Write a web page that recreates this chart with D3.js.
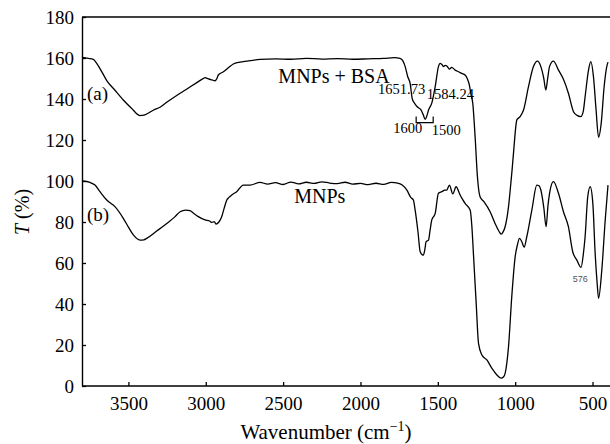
<!DOCTYPE html>
<html>
<head>
<meta charset="utf-8">
<script src="https://cdn.jsdelivr.net/npm/d3@7"></script>
<style>
  body { margin: 0; background: #fff; }
  #chart { width: 610px; height: 444px; }
  text { font-family: "Liberation Serif", "Times New Roman", serif; fill: #000; }
  .tick-lbl { font-size: 19px; }
  .ann { font-size: 14.5px; }
  .ann-small { font-family: "Liberation Sans", Arial, sans-serif; font-size: 9px; fill: #555; }
</style>
</head>
<body>
<div id="chart"></div>
<script>
///// DATA
// curve (a) MNPs + BSA
const waveA = [3800, 3760, 3727, 3705, 3670, 3640, 3590, 3533, 3480, 3425, 3400, 3382, 3340, 3296, 3250,
  3166, 3100, 3058, 3020, 3005, 2983, 2960, 2940, 2925, 2919, 2886, 2850, 2822, 2780, 2735, 2649,
  2550, 2450, 2350, 2250, 2150, 2050, 1950, 1850, 1780, 1745, 1725, 1711, 1695, 1679, 1665, 1650,
  1633, 1608, 1595, 1582, 1570, 1560, 1539, 1517, 1496, 1485, 1470, 1464, 1452, 1442, 1425, 1410,
  1388, 1367, 1345, 1324, 1310, 1296, 1285, 1274, 1259, 1244, 1227, 1202, 1162, 1130, 1105, 1091,
  1078, 1065, 1043, 1028, 1020, 1011, 989, 968, 946, 914, 882, 856, 834, 815, 802, 790, 778, 753,
  720, 688, 656, 623, 600, 576, 560, 548, 526, 511, 494, 477, 461, 444, 425, 408, 400];
const transA = [160.3, 159.8, 159.3, 157.4, 153, 149, 144.5, 139.5, 135.5, 131.9, 132.1, 132.7, 134.5, 136, 138.5,
  142.8, 146, 148, 149.8, 150.4, 149.8, 149.3, 148.9, 150.5, 151.7, 153.3, 155.5, 157.1, 158, 158.5, 159.3,
  159.6, 159.4, 159.8, 159.5, 159.7, 159.4, 159.6, 159.8, 160.2, 159.8, 158.5, 155.8, 151, 147.6, 140, 137.9,
  136.2, 134.6, 132.5, 130.1, 132, 134.6, 138, 146, 155.8, 157.4, 156.5, 155.8, 156.4, 156.1, 154.6, 155.4,
  154.1, 153.3, 152.5, 151.7, 150, 146.8, 142, 137.9, 121.6, 102.1, 92.3, 89.9, 85, 79.3, 75.5, 74.1,
  75.2, 77.7, 87.5, 98.9, 105.4, 113.5, 129.8, 131.4, 134.6, 146, 155.8, 158.5, 155.8, 150, 144.4, 150, 155.8, 158.5,
  154.1, 149.6, 142.8, 133.8, 132, 131.4, 134, 141.1, 154.1, 158.2, 150.9, 134.6, 121.3, 128.1, 146, 155.8, 158];

// curve (b) MNPs
const waveB = [3800, 3748, 3716, 3684, 3640, 3587, 3533, 3500, 3468, 3425, 3400, 3382, 3317, 3252, 3200,
  3166, 3130, 3102, 3075, 3048, 3005, 2975, 2961, 2945, 2934, 2915, 2897, 2880, 2864, 2850, 2832, 2800,
  2757, 2714, 2649, 2600, 2550, 2500, 2450, 2400, 2350, 2300, 2250, 2200, 2150, 2100, 2050, 2000, 1950,
  1900, 1850, 1800, 1760, 1730, 1700, 1675, 1658, 1647, 1628, 1614, 1600, 1593, 1583, 1576, 1560, 1550,
  1539, 1517, 1496, 1474, 1455, 1442, 1425, 1403, 1382, 1356, 1340, 1324, 1291, 1280, 1270, 1252, 1237,
  1215, 1183, 1150, 1118, 1091, 1075, 1065, 1043, 1022, 1000, 985, 972, 957, 942, 925, 892, 860, 848,
  834, 815, 800, 788, 774, 753, 720, 688, 656, 628, 602, 574, 560, 548, 531, 515, 498, 483, 470, 461,
  440, 418, 400];
const transB = [100, 99.3, 98, 94.8, 90.7, 87.5, 81.8, 77.5, 73.7, 71.2, 71.3, 72, 75.6, 79.3, 82.5,
  85, 85.8, 85.5, 84, 82.6, 81, 80.5, 79.8, 80.2, 79, 80, 82.6, 87, 90.7, 92, 93.2, 94.8,
  98, 98, 99.3, 98.5, 99.2, 98.3, 99.5, 98.6, 99.4, 98.8, 99.6, 99, 98.7, 99.4, 98.5, 98.8, 98.2,
  98.9, 98.4, 99.3, 99, 98, 95.5, 92, 90.7, 86, 75, 65.5, 64, 63.9, 67, 70.4, 71.2, 76,
  81, 84.2, 94, 94.8, 95.5, 95.6, 98, 93.7, 97.2, 93.2, 91, 89.1, 85.9, 78, 64.7, 40.3, 20.8,
  15.1, 12.7, 8.6, 5.4, 3.8, 4.5, 6.2, 19.2, 43.6, 63.1, 69, 72, 70.4, 67.7, 72.8, 85.9, 98, 97.8,
  95.6, 87, 77.7, 88, 95.6, 99.7, 94, 85, 77.7, 65.5, 61.5, 57.9, 64, 72.8, 92.3, 97.2, 89.1, 64.7, 50, 42.8,
  56.6, 81, 98];

const xTicks = [3500, 3000, 2500, 2000, 1500, 1000, 500];
const yTicks = [0, 20, 40, 60, 80, 100, 120, 140, 160, 180];

// annotations: [text, wavenumber, T, anchor, class]
const notes = [
  ['(a)', 3768, 139.5, 'start', 'tick-lbl'],
  ['(b)', 3768, 80.5, 'start', 'tick-lbl'],
  ['MNPs + BSA', 2171, 147.7, 'middle', 'big'],
  ['MNPs', 2263, 89.1, 'middle', 'big'],
  ['1651.73', 1886, 142.2, 'start', 'ann'],
  ['1584.24', 1571, 139.9, 'start', 'ann'],
  ['1600', 1694, 123.4, 'middle', 'ann'],
  ['1500', 1446, 122.4, 'middle', 'ann'],
  ['576', 580, 50.7, 'middle', 'ann-small']
];
// bracket under the 1584 band: [wave left, wave right, T top, T bottom]
const bracket = [1640, 1530, 131.5, 128.5];

///// CHART
const W = 610, H = 444;
const M = { left: 82, right: 2, top: 17, bottom: 58 };

const svg = d3.select('#chart').append('svg')
  .attr('width', W).attr('height', H);

const x = d3.scaleLinear().domain([3800, 400]).range([M.left, W - M.right]);
const y = d3.scaleLinear().domain([0, 180]).range([H - M.bottom, M.top]);

// TOP FRAME LINE
svg.append('line')
  .attr('x1', M.left).attr('x2', W)
  .attr('y1', y(180)).attr('y2', y(180))
  .attr('stroke', '#000').attr('stroke-width', 1.4);

// X AXIS
const xAxis = svg.append('g')
  .attr('transform', `translate(0, ${y(0)})`)
  .call(d3.axisBottom(x).tickValues(xTicks).tickFormat(d3.format('d'))
    .tickSizeInner(-4).tickSizeOuter(0).tickPadding(10.5));
xAxis.select('.domain').attr('d', `M${M.left},0H${W}`).attr('stroke-width', 1.4);

// Y AXIS
const yAxis = svg.append('g')
  .attr('transform', `translate(${M.left}, 0)`)
  .call(d3.axisLeft(y).tickValues(yTicks).tickFormat(d3.format('d'))
    .tickSizeInner(-4).tickSizeOuter(0).tickPadding(8));
yAxis.select('.domain').attr('stroke-width', 1.4);

svg.selectAll('.tick line').attr('stroke-width', 1.3);
svg.selectAll('.tick text')
  .attr('class', 'tick-lbl')
  .attr('font-family', null).attr('font-size', null);

// LINES
const line = d3.line()
  .x(d => x(d[0]))
  .y(d => y(d[1]))
  .curve(d3.curveMonotoneX);

[[waveA, transA], [waveB, transB]].forEach(([wv, tr]) => {
  svg.append('path')
    .datum(wv.map((w, i) => [w, tr[i]]))
    .attr('d', line)
    .attr('fill', 'none')
    .attr('stroke', '#000')
    .attr('stroke-width', 1.3)
    .attr('stroke-linejoin', 'round');
});

// BRACKET
svg.append('path')
  .attr('d', `M${x(bracket[0])},${y(bracket[2])}V${y(bracket[3])}H${x(bracket[1])}V${y(bracket[2])}`)
  .attr('fill', 'none').attr('stroke', '#000').attr('stroke-width', 1.2);

// ANNOTATIONS
svg.selectAll('.note')
  .data(notes)
  .enter()
  .append('text')
  .attr('class', d => d[4])
  .attr('x', d => x(d[1]))
  .attr('y', d => y(d[2]))
  .attr('text-anchor', d => d[3])
  .style('font-size', d => d[4] === 'big' ? '20px' : null)
  .text(d => d[0]);

// AXIS TITLES
const xt = svg.append('text')
  .attr('x', 326).attr('y', 439)
  .attr('text-anchor', 'middle')
  .style('font-size', '21px');
xt.append('tspan').text('Wavenumber (cm');
xt.append('tspan').attr('dy', -8).style('font-size', '14px').text('\u22121');
xt.append('tspan').attr('dy', 8).text(')');

const yt = svg.append('text')
  .attr('transform', `translate(29, ${212}) rotate(-90)`)
  .attr('text-anchor', 'middle')
  .style('font-size', '20px');
yt.append('tspan').style('font-style', 'italic').text('T');
yt.append('tspan').text(' (%)');
</script>
</body>
</html>
